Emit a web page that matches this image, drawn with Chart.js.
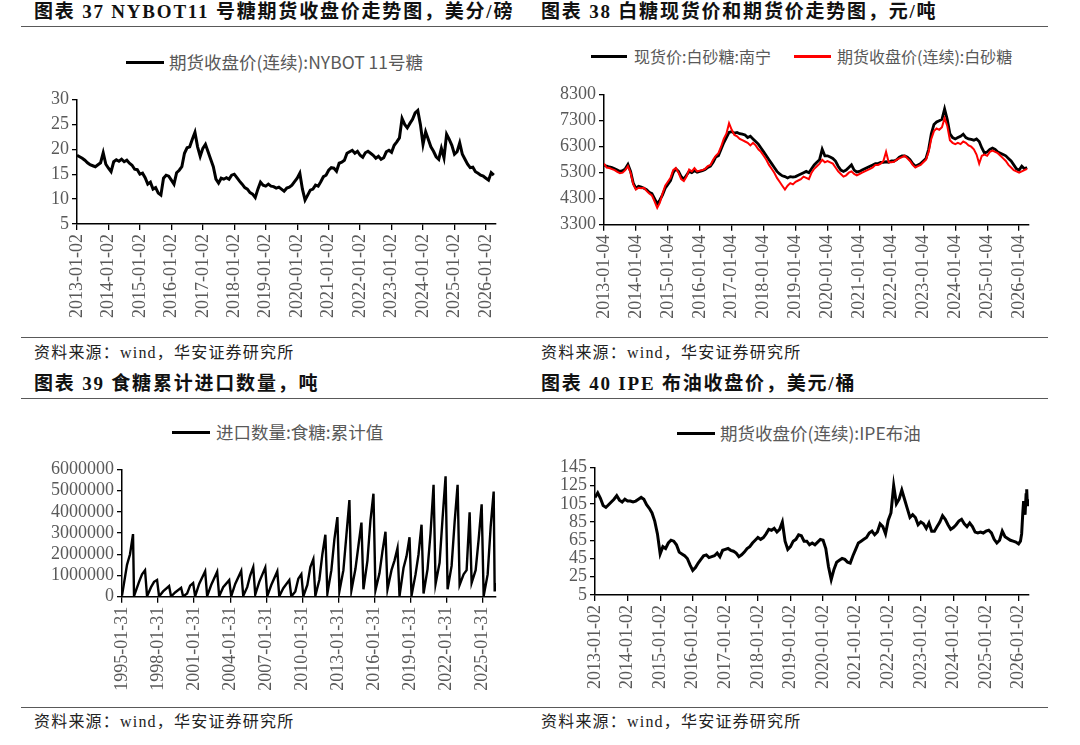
<!DOCTYPE html>
<html lang="zh-CN">
<head>
<meta charset="utf-8">
<title>糖价与油价走势</title>
<script src="https://cdn.jsdelivr.net/npm/chart.js@4.4.1/dist/chart.umd.min.js"></script>
<style>
  html, body { margin: 0; padding: 0; background: #fff; }
  body { width: 1080px; height: 745px; position: relative; overflow: hidden; }
  .title { position: absolute; font: bold 19px "Liberation Serif", "Noto Sans CJK SC", serif; color: #111;
           letter-spacing: 1.8px; white-space: nowrap; line-height: 24px; }
  .rule { position: absolute; left: 21px; width: 1027px; height: 0; border-top: 1.5px solid #595959; }
  .source { position: absolute; font: 16px "Liberation Serif", "Noto Sans CJK SC", serif; color: #222;
            letter-spacing: 1.2px; white-space: nowrap; line-height: 20px; }
  .sw { position: absolute; height: 3px; }
  .lg { position: absolute; font: 17.5px "Noto Sans CJK SC", sans-serif; color: #595959; white-space: nowrap;
        line-height: 20px; }
  .lg.small { font-size: 16px; }
  .box { position: absolute; }
  .box canvas { display: block; }
</style>
</head>
<body>

<div class="title" style="left:34px;top:0px;">图表 37 NYBOT11 号糖期货收盘价走势图，美分/磅</div>
<div class="title" style="left:541px;top:0px;">图表 38 白糖现货价和期货价走势图，元/吨</div>
<div class="rule" style="top:26px;"></div>

<div class="sw" style="left:126px;top:61px;width:38px;background:#000;"></div>
<div class="lg" style="left:169px;top:52px;">期货收盘价(连续):NYBOT 11号糖</div>

<div class="sw" style="left:591px;top:55px;width:36px;background:#000;"></div>
<div class="lg small" style="left:634px;top:46px;">现货价:白砂糖:南宁</div>
<div class="sw" style="left:794px;top:55px;width:37px;background:#ff0000;"></div>
<div class="lg small" style="left:837px;top:46px;">期货收盘价(连续):白砂糖</div>

<div class="box"><canvas id="nybotChart"></canvas></div>
<div class="box"><canvas id="sugarChart"></canvas></div>

<div class="rule" style="top:337px;"></div>
<div class="source" style="left:34px;top:343px;">资料来源：wind，华安证券研究所</div>
<div class="source" style="left:541px;top:343px;">资料来源：wind，华安证券研究所</div>

<div class="title" style="left:34px;top:372px;">图表 39 食糖累计进口数量，吨</div>
<div class="title" style="left:541px;top:372px;">图表 40 IPE 布油收盘价，美元/桶</div>
<div class="rule" style="top:398px;"></div>

<div class="sw" style="left:172px;top:431px;width:38px;background:#000;"></div>
<div class="lg" style="left:216px;top:422px;">进口数量:食糖:累计值</div>

<div class="sw" style="left:677px;top:432px;width:38px;background:#000;"></div>
<div class="lg" style="left:720px;top:423px;">期货收盘价(连续):IPE布油</div>

<div class="box"><canvas id="importChart"></canvas></div>
<div class="box"><canvas id="brentChart"></canvas></div>

<div class="rule" style="top:707px;"></div>
<div class="source" style="left:34px;top:712px;">资料来源：wind，华安证券研究所</div>
<div class="source" style="left:541px;top:712px;">资料来源：wind，华安证券研究所</div>

<script>
// ---- chart 37: NYBOT 11 sugar, monthly from 2013-01, US cents/lb
const nybotStart = 2013;
const nybotValues = [
    18.8, 18.5, 18.2, 17.8, 17.3, 16.9, 16.7, 16.5, 16.9, 17.3, 19.3, 17.0,
    16.2, 15.5, 17.5, 17.9, 17.6, 18.0, 17.5, 17.8, 17.2, 16.8, 16.0, 15.9,
    15.0, 15.2, 14.3, 13.0, 13.4, 12.0, 12.3, 11.2, 10.8, 14.2, 14.8, 14.6,
    13.8, 13.0, 15.3, 15.8, 16.5, 19.2, 20.3, 20.5, 22.0, 23.4, 20.5, 18.6,
    20.2, 21.0, 19.5, 18.0, 16.5, 14.0, 13.2, 14.2, 14.0, 14.3, 14.0, 14.8,
    15.0, 14.3, 13.6, 13.0, 12.3, 12.0, 11.3, 11.0, 10.3, 12.0, 13.4, 12.8,
    12.6, 13.0, 12.6, 12.5, 12.2, 12.4, 12.0, 11.6, 12.2, 12.4, 12.8, 13.5,
    14.2, 15.2, 12.0, 9.8, 10.8, 11.8, 12.0, 12.8, 12.6, 13.5, 14.5, 14.8,
    15.8, 16.3, 16.2, 15.6, 17.2, 17.4, 17.8, 19.2, 19.5, 19.8, 19.2, 19.6,
    18.8, 18.4, 19.3, 19.6, 19.2, 18.8, 18.2, 18.6, 18.0, 18.3, 19.5, 19.8,
    19.4, 20.8, 21.5, 22.3, 26.2, 25.0, 24.3, 25.2, 26.0, 27.3, 27.8, 25.0,
    21.0, 23.5, 22.0, 20.5, 19.6, 18.5, 18.0, 20.2, 18.3, 23.0, 22.0, 20.8,
    19.0, 19.5, 21.3, 19.0, 18.0, 17.0, 16.3, 16.4, 15.5, 15.2, 14.8, 14.6,
    14.2, 13.8, 15.3, 14.8
];
const nybotTickLabels = ['2013-01-02', '2014-01-02', '2015-01-02', '2016-01-02', '2017-01-02', '2018-01-02', '2019-01-02',
    '2020-01-02', '2021-01-02', '2022-01-02', '2023-01-02', '2024-01-02', '2025-01-02', '2026-01-02'];
const nybotYTicks = [5, 10, 15, 20, 25, 30];

// ---- chart 38: white sugar spot (Nanning) and futures, monthly from 2013-01, yuan/t
const sugarStart = 2013;
const sugarSpotValues = [
    5600, 5550, 5520, 5500, 5450, 5400, 5350, 5380, 5450, 5620, 5350, 4900,
    4700, 4780, 4750, 4700, 4650, 4550, 4500, 4300, 4100, 4250, 4450, 4700,
    4850, 5000, 5300, 5450, 5350, 5150, 5050, 5200, 5350, 5300, 5380, 5320,
    5350, 5380, 5420, 5500, 5550, 5700, 5900, 5950, 6200, 6450, 6650, 6850,
    6880, 6820, 6850, 6800, 6780, 6750, 6650, 6700, 6600, 6500, 6400, 6250,
    6100, 5950, 5800, 5650, 5500, 5350, 5250, 5180, 5150, 5100, 5150, 5130,
    5150, 5200, 5250, 5300, 5350, 5300, 5450, 5600, 5700, 5800, 6200, 5950,
    5950, 5900, 5850, 5750, 5550, 5400, 5350, 5400, 5500, 5600, 5400, 5330,
    5350, 5400, 5450, 5500, 5550, 5600, 5650, 5650, 5700, 5700, 5720, 5700,
    5750, 5750, 5800, 5900, 5950, 5950, 5900, 5800, 5650, 5550, 5600, 5650,
    5750, 5850, 6200, 6800, 7150, 7250, 7300, 7350, 7750, 7350, 6800, 6650,
    6600, 6650, 6700, 6780, 6650, 6600, 6580, 6550, 6600, 6500, 6250, 6050,
    6100, 6200, 6250, 6200, 6100, 6050, 6000, 5950, 5850, 5750, 5600, 5450,
    5400, 5550, 5450, 5500
];
const sugarFuturesValues = [
    5650, 5500, 5480, 5440, 5400, 5330, 5280, 5300, 5400, 5550, 5300, 4850,
    4650, 4720, 4700, 4720, 4600, 4500, 4430, 4200, 3950, 4150, 4500, 4800,
    4950, 5100, 5400, 5480, 5300, 5050, 4980, 5150, 5420, 5350, 5480, 5350,
    5380, 5400, 5450, 5550, 5600, 5800, 5950, 6050, 6300, 6600, 6800, 7200,
    6950, 6750, 6700, 6600, 6550, 6500, 6450, 6350, 6450, 6350, 6200, 6100,
    5950, 5800, 5600, 5450, 5300, 5100, 4950, 4800, 4650, 4800, 4900, 4850,
    4950, 5000, 5050, 5150, 5100, 5050, 5300, 5450, 5550, 5650, 5800, 5700,
    5750, 5700, 5650, 5500, 5350, 5250, 5150, 5200, 5300, 5350, 5250, 5200,
    5250, 5300, 5350, 5400, 5450, 5500, 5600, 5600, 5650, 5750, 6100, 5700,
    5700, 5720, 5800, 5850, 5900, 5950, 5850, 5750, 5600, 5500, 5550, 5600,
    5700, 5800, 6100, 6600, 6900, 7000, 6950, 7050, 7400, 7100, 6550, 6450,
    6400, 6450, 6400, 6500, 6450, 6350, 6300, 6200, 6000, 5650, 5950, 6000,
    5950, 6100, 6150, 6100, 6050, 5950, 5850, 5750, 5600, 5500, 5400, 5350,
    5300, 5350, 5400, 5450
];
const sugarTickLabels = ['2013-01-04', '2014-01-04', '2015-01-04', '2016-01-04', '2017-01-04', '2018-01-04', '2019-01-04',
    '2020-01-04', '2021-01-04', '2022-01-04', '2023-01-04', '2024-01-04', '2025-01-04', '2026-01-04'];
const sugarYTicks = [3300, 4300, 5300, 6300, 7300, 8300];

// ---- chart 39: cumulative sugar imports, tonnes
const importMonths = [
    '1995-01', '1995-06', '1995-09', '1995-12', '1996-01', '1996-06', '1996-09', '1996-12',
    '1997-02', '1997-06', '1997-09', '1997-12', '1998-02', '1998-06', '1998-12',
    '1999-02', '1999-06', '1999-12', '2000-02', '2000-06', '2000-09', '2000-12',
    '2001-02', '2001-06', '2001-12', '2002-02', '2002-06', '2002-12', '2003-02', '2003-06', '2003-12',
    '2004-02', '2004-06', '2004-12', '2005-02', '2005-06', '2005-09', '2005-12',
    '2006-02', '2006-06', '2006-12', '2007-02', '2007-06', '2007-12', '2008-02', '2008-06', '2008-12',
    '2009-02', '2009-06', '2009-09', '2009-12', '2010-02', '2010-06', '2010-09', '2010-12',
    '2011-02', '2011-06', '2011-09', '2011-12', '2012-02', '2012-06', '2012-09', '2012-12',
    '2013-02', '2013-06', '2013-09', '2013-12', '2014-02', '2014-06', '2014-09', '2014-12',
    '2015-02', '2015-06', '2015-09', '2015-12', '2016-02', '2016-06', '2016-09', '2016-12',
    '2017-02', '2017-06', '2017-09', '2017-12', '2018-02', '2018-06', '2018-09', '2018-12',
    '2019-02', '2019-06', '2019-09', '2019-12', '2020-02', '2020-06', '2020-09', '2020-12',
    '2021-02', '2021-06', '2021-09', '2021-12', '2022-02', '2022-06', '2022-09', '2022-12',
    '2023-02', '2023-06', '2023-09', '2023-12', '2024-02', '2024-06', '2024-09', '2024-12',
    '2025-02', '2025-06', '2025-09', '2025-12', '2026-01', '2026-02'
];
const importValues = [
    50000, 1500000, 2000000, 2950000, 30000, 700000, 1050000, 1240000,
    20000, 450000, 700000, 790000, 10000, 250000, 500000,
    10000, 200000, 420000, 15000, 150000, 520000, 640000,
    20000, 600000, 1200000, 30000, 550000, 1180000, 20000, 450000, 780000,
    20000, 600000, 1210000, 40000, 450000, 1000000, 1390000,
    100000, 700000, 1370000, 30000, 550000, 1190000, 20000, 400000, 780000,
    10000, 250000, 850000, 1060000, 20000, 550000, 1400000, 1770000,
    40000, 800000, 2000000, 2920000, 150000, 1250000, 2700000, 3750000,
    250000, 1250000, 2900000, 4550000, 300000, 1300000, 2400000, 3490000,
    350000, 1700000, 3600000, 4850000, 300000, 1100000, 2150000, 3060000,
    350000, 1250000, 1700000, 2290000, 30000, 1350000, 1900000, 2800000,
    50000, 1050000, 2000000, 3390000, 150000, 1300000, 3000000, 5270000,
    600000, 1600000, 3700000, 5670000, 350000, 1450000, 3500000, 5270000,
    550000, 1050000, 1250000, 3970000, 650000, 1250000, 2700000, 4350000,
    30000, 1050000, 3300000, 4950000, 250000, 650000
];
const importTickLabels = ['1995-01-31', '1998-01-31', '2001-01-31', '2004-01-31', '2007-01-31', '2010-01-31',
    '2013-01-31', '2016-01-31', '2019-01-31', '2022-01-31', '2025-01-31'];
const importYTicks = [0, 1000000, 2000000, 3000000, 4000000, 5000000, 6000000];

// ---- chart 40: IPE Brent, monthly from 2013-01 plus the latest weeks, USD/bbl
const brentStart = 2013;
const brentValues = [
    112, 117, 111, 103, 101, 104, 107, 110, 114, 109, 107, 110,
    108, 108, 107, 108, 110, 112, 110, 104, 100, 95, 86, 72,
    50, 58, 56, 62, 65, 64, 60, 52, 50, 48, 45, 38,
    32, 35, 40, 44, 48, 49, 46, 47, 48, 51, 47, 54,
    55, 56, 54, 53, 51, 47, 49, 52, 56, 58, 62, 65,
    68, 66, 68, 72, 77, 76, 78, 74, 77, 85, 64, 55,
    58, 64, 66, 71, 70, 64, 64, 60, 62, 60, 63, 66,
    65, 56, 36, 22, 33, 41, 43, 45, 44, 41, 40, 48,
    55, 62, 64, 66, 68, 73, 75, 71, 74, 83, 80, 72,
    87, 95, 125, 105, 110, 120, 110, 100, 90, 93, 90, 82,
    85, 83, 78, 84, 75, 75, 80, 85, 92, 88, 82, 77,
    79, 82, 86, 88, 83, 80, 84, 80, 74, 73, 74, 73,
    75, 76, 73, 66, 62, 65, 75, 69, 67, 65, 64, 63,
    61
];
const brentTailDates = ['2026-01-22', '2026-02-05', '2026-02-18', '2026-02-27', '2026-03-06',
    '2026-03-13', '2026-03-24', '2026-04-01', '2026-04-08', '2026-04-14'];
const brentTailValues = [64, 72, 95, 108, 100, 93, 115, 121, 104, 110];
const brentTickLabels = ['2013-01-02', '2014-01-02', '2015-01-02', '2016-01-02', '2017-01-02', '2018-01-02', '2019-01-02',
    '2020-01-02', '2021-01-02', '2022-01-02', '2023-01-02', '2024-01-02', '2025-01-02', '2026-01-02'];
const brentYTicks = [5, 25, 45, 65, 85, 105, 125, 145];

const tickFont = { family: '"Liberation Serif", "Times New Roman", serif', size: 18 };
const tickColor = '#595959';

function yearOf(label) {
    return parseInt(label.slice(0, 4), 10);
}

// 'YYYY-MM' or 'YYYY-MM-DD' -> decimal year
function toYear(date) {
    const y = +date.slice(0, 4);
    const m = +date.slice(5, 7);
    const d = date.length > 7 ? +date.slice(8, 10) : 1;
    return y + (m - 1) / 12 + (d - 1) / 365;
}

function monthly(start, values) {
    return values.map((v, i) => ({ x: start + i / 12, y: v }));
}

function dated(dates, values) {
    return dates.map((d, i) => ({ x: toYear(d), y: values[i] }));
}

// frame = canvas box on the page, plot = wanted chart area on the page
function makeChart(id, frame, plot, datasets, xLabels, xMax, yTicks) {
    const canvas = document.getElementById(id);
    const box = canvas.parentNode;
    box.style.left = frame.x + 'px';
    box.style.top = frame.y + 'px';
    canvas.width = frame.w;
    canvas.height = frame.h;
    canvas.style.width = frame.w + 'px';
    canvas.style.height = frame.h + 'px';

    const yAxisW = plot.l - frame.x;
    const xAxisH = frame.y + frame.h - plot.b;

    return new Chart(canvas, {
        type: 'line',
        data: { datasets: datasets },
        options: {
            responsive: false,
            animation: false,
            layout: {
                padding: { left: 0, top: plot.t - frame.y, right: frame.x + frame.w - plot.r, bottom: 0 }
            },
            plugins: {
                legend: { display: false },
                tooltip: { enabled: false }
            },
            elements: {
                point: { radius: 0 },
                line: { tension: 0 }
            },
            scales: {
                x: {
                    type: 'linear',
                    min: yearOf(xLabels[0]),
                    max: xMax,
                    afterBuildTicks: s => { s.ticks = xLabels.map(l => ({ value: yearOf(l) })); },
                    afterFit: s => { s.height = xAxisH; s.paddingLeft = 0; s.paddingRight = 0; },
                    ticks: {
                        autoSkip: false,
                        minRotation: 90,
                        maxRotation: 90,
                        padding: 4,
                        color: tickColor,
                        font: tickFont,
                        callback: (v, i) => xLabels[i]
                    },
                    grid: { drawOnChartArea: false, drawTicks: true, tickLength: 6, color: '#000', lineWidth: 1.3 },
                    border: { color: '#000', width: 1.5 }
                },
                y: {
                    min: yTicks[0],
                    max: yTicks[yTicks.length - 1],
                    afterBuildTicks: s => { s.ticks = yTicks.map(v => ({ value: v })); },
                    afterFit: s => { s.width = yAxisW; s.paddingTop = 0; s.paddingBottom = 0; },
                    ticks: {
                        autoSkip: false,
                        padding: 3,
                        color: tickColor,
                        font: tickFont,
                        callback: v => String(v)
                    },
                    grid: { drawOnChartArea: false, drawTicks: true, tickLength: 5, color: '#000', lineWidth: 1.3 },
                    border: { color: '#000', width: 1.5 }
                }
            }
        }
    });
}

makeChart('nybotChart',
    { x: 0, y: 85, w: 520, h: 250 },
    { l: 77, t: 99.5, r: 496, b: 224 },
    [{
        label: '期货收盘价(连续):NYBOT 11号糖',
        data: monthly(nybotStart, nybotValues),
        borderColor: '#000',
        borderWidth: 3
    }],
    nybotTickLabels, 2026.32, nybotYTicks);

makeChart('sugarChart',
    { x: 540, y: 80, w: 510, h: 255 },
    { l: 604, t: 94.7, r: 1029, b: 224.7 },
    [{
        label: '现货价:白砂糖:南宁',
        data: monthly(sugarStart, sugarSpotValues),
        borderColor: '#000',
        borderWidth: 2.8,
        order: 2
    }, {
        label: '期货收盘价(连续):白砂糖',
        data: monthly(sugarStart, sugarFuturesValues),
        borderColor: '#ff0000',
        borderWidth: 2,
        order: 1
    }],
    sugarTickLabels, 2026.31, sugarYTicks);

makeChart('importChart',
    { x: 0, y: 450, w: 520, h: 255 },
    { l: 122, t: 469.3, r: 496, b: 596.7 },
    [{
        label: '进口数量:食糖:累计值',
        data: dated(importMonths, importValues),
        borderColor: '#000',
        borderWidth: 2.4
    }],
    importTickLabels, 2026.11, importYTicks);

makeChart('brentChart',
    { x: 540, y: 450, w: 510, h: 255 },
    { l: 595, t: 467.3, r: 1029, b: 595 },
    [{
        label: '期货收盘价(连续):IPE布油',
        data: monthly(brentStart, brentValues).concat(dated(brentTailDates, brentTailValues)),
        borderColor: '#000',
        borderWidth: 3
    }],
    brentTickLabels, 2026.32, brentYTicks);
</script>
</body>
</html>
